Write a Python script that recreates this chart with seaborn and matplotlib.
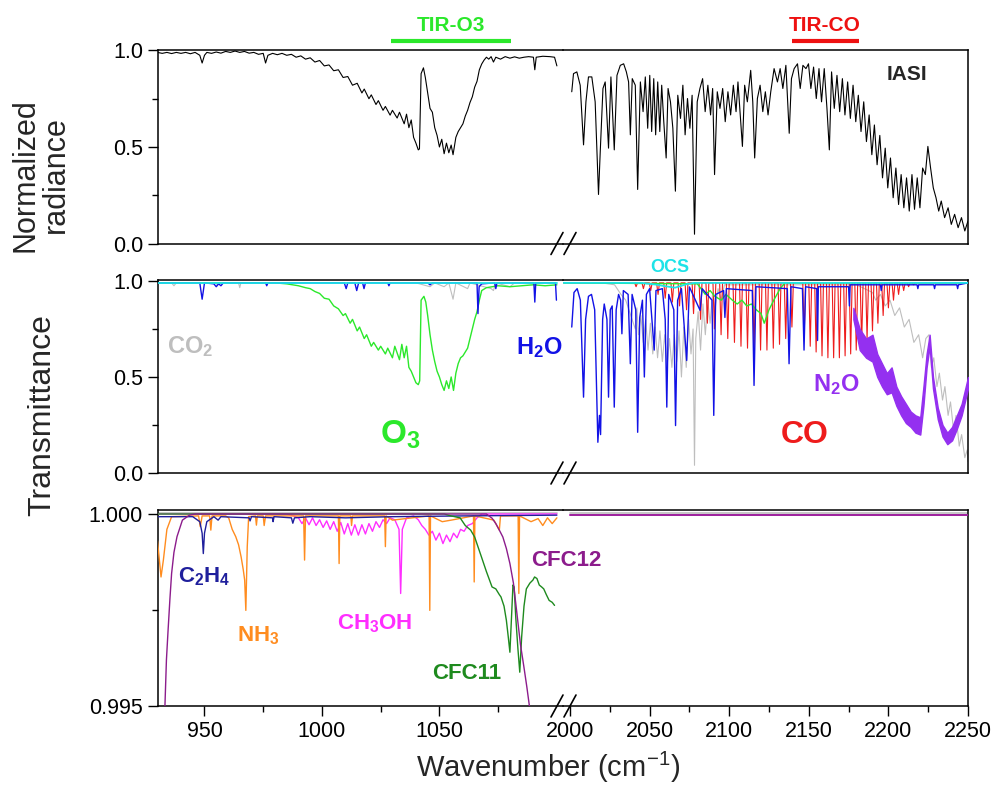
import seaborn as sns
import matplotlib.pyplot as plt
from matplotlib.ticker import FixedLocator, FormatStrFormatter
from matplotlib.lines import Line2D

# ---------------- data ----------------
# top panel: IASI normalized radiance
iasi_l_x = [930, 932, 934, 936, 938, 940, 942, 944, 946, 948, 949, 950, 951, 953, 955, 957, 959, 961, 963, 965,
            967, 969, 971, 973, 975, 976, 977, 979, 981, 983, 985, 987, 989, 991, 993, 995, 997, 999, 1001, 1003,
            1005, 1007, 1009, 1011, 1013, 1015, 1017, 1018, 1020, 1021, 1023, 1024, 1026, 1027, 1029, 1030, 1032,
            1033, 1035, 1036, 1037, 1038, 1039, 1040, 1041, 1041.5, 1042.2, 1043.2, 1044, 1045, 1046, 1047, 1048,
            1049, 1050, 1051, 1052, 1053, 1054, 1055, 1055.8, 1057, 1058, 1059, 1060, 1061, 1062, 1063, 1064, 1065,
            1066, 1067, 1068, 1069, 1070, 1071, 1072, 1073, 1074, 1076, 1078, 1080, 1082, 1084, 1086, 1088, 1090,
            1090.6, 1091.2, 1094, 1097, 1099, 1100]
iasi_l_y = [0.99, 0.985, 0.99, 0.984, 0.99, 0.985, 0.99, 0.983, 0.99, 0.975, 0.935, 0.975, 0.99, 0.985, 0.992,
            0.986, 0.995, 0.99, 0.997, 0.99, 0.995, 0.986, 0.99, 0.98, 0.985, 0.935, 0.975, 0.985, 0.978, 0.985,
            0.975, 0.98, 0.965, 0.972, 0.955, 0.962, 0.94, 0.948, 0.92, 0.925, 0.895, 0.9, 0.86, 0.865, 0.82, 0.83,
            0.78, 0.8, 0.75, 0.77, 0.72, 0.74, 0.69, 0.71, 0.665, 0.69, 0.65, 0.68, 0.62, 0.67, 0.6, 0.64, 0.55,
            0.52, 0.485, 0.49, 0.88, 0.91, 0.86, 0.78, 0.7, 0.68, 0.6, 0.56, 0.5, 0.54, 0.465, 0.52, 0.47, 0.51,
            0.46, 0.55, 0.58, 0.6, 0.62, 0.66, 0.69, 0.73, 0.76, 0.81, 0.84, 0.9, 0.93, 0.95, 0.965, 0.955, 0.968,
            0.94, 0.965, 0.955, 0.968, 0.96, 0.967, 0.96, 0.965, 0.968, 0.965, 0.9, 0.965, 0.97, 0.968, 0.965, 0.92]
iasi_r_x = [2001.1, 2002.2, 2004.3, 2006.4, 2008.5, 2010.0, 2011.6, 2013.7, 2015.8, 2017.9, 2019.0, 2020.7,
            2022.1, 2024.2, 2025.7, 2027.8, 2029.5, 2031.6, 2033.7, 2035.4, 2036.8, 2037.9, 2039.1, 2041.0,
            2042.5, 2044.2, 2045.9, 2047.3, 2048.8, 2050.1, 2051.3, 2052.6, 2053.8, 2055.1, 2056.4, 2057.6,
            2058.9, 2060.4, 2061.6, 2063.1, 2064.6, 2066.2, 2067.7, 2069.4, 2070.9, 2072.3, 2073.8, 2075.3,
            2076.7, 2078.2, 2079.9, 2081.6, 2083.3, 2084.9, 2086.6, 2088.3, 2089.6, 2090.8, 2092.5, 2094.2,
            2095.9, 2097.5, 2099.2, 2100.9, 2102.6, 2104.3, 2105.5, 2106.8, 2108.3, 2109.7, 2111.4, 2113.5,
            2114.8, 2116.0, 2117.7, 2119.4, 2121.1, 2122.7, 2124.4, 2126.1, 2128.2, 2130.3, 2132.0, 2133.7,
            2135.6, 2137.7, 2139.1, 2140.8, 2142.9, 2144.6, 2146.3, 2148.2, 2149.8, 2151.3, 2153.0, 2154.7,
            2156.4, 2158.0, 2159.7, 2161.4, 2162.9, 2164.3, 2166.0, 2167.7, 2169.4, 2171.1, 2172.7, 2174.4,
            2176.1, 2177.8, 2179.5, 2181.1, 2182.8, 2184.5, 2186.2, 2187.9, 2189.6, 2191.2, 2192.9, 2194.6,
            2196.3, 2198.0, 2199.6, 2201.3, 2203.0, 2204.7, 2206.4, 2208.0, 2209.7, 2211.4, 2213.1, 2214.8,
            2216.4, 2218.1, 2219.8, 2221.5, 2223.2, 2224.8, 2226.5, 2228.2, 2229.9, 2231.6, 2233.2, 2235.3,
            2237.5, 2239.5, 2241.6, 2243.8, 2245.9, 2248.0, 2250.0]
iasi_r_y = [0.786, 0.88, 0.889, 0.82, 0.511, 0.734, 0.863, 0.863, 0.734, 0.254, 0.477, 0.803, 0.837, 0.494,
            0.863, 0.485, 0.871, 0.923, 0.931, 0.889, 0.837, 0.563, 0.854, 0.82, 0.28, 0.837, 0.683, 0.863, 0.597,
            0.871, 0.58, 0.854, 0.563, 0.837, 0.58, 0.82, 0.631, 0.443, 0.803, 0.734, 0.597, 0.271, 0.768, 0.648,
            0.82, 0.563, 0.751, 0.597, 0.768, 0.048, 0.734, 0.803, 0.854, 0.683, 0.82, 0.666, 0.803, 0.357, 0.786,
            0.7, 0.803, 0.631, 0.786, 0.666, 0.82, 0.683, 0.837, 0.683, 0.503, 0.82, 0.734, 0.897, 0.734, 0.443,
            0.751, 0.82, 0.683, 0.786, 0.666, 0.786, 0.906, 0.837, 0.906, 0.803, 0.923, 0.571, 0.854, 0.906, 0.931,
            0.803, 0.923, 0.906, 0.931, 0.803, 0.914, 0.751, 0.906, 0.734, 0.906, 0.7, 0.485, 0.889, 0.7, 0.871,
            0.683, 0.854, 0.666, 0.837, 0.648, 0.82, 0.631, 0.768, 0.58, 0.734, 0.528, 0.666, 0.460, 0.614, 0.408,
            0.56, 0.340, 0.494, 0.288, 0.443, 0.237, 0.391, 0.202, 0.357, 0.185, 0.34, 0.168, 0.357, 0.177, 0.34,
            0.185, 0.391, 0.357, 0.503, 0.391, 0.288, 0.237, 0.168, 0.220, 0.134, 0.185, 0.099, 0.151, 0.082,
            0.134, 0.065, 0.117]

# middle panel: transmittance of single species
o3_l_x = [930, 960, 980, 985, 990, 993, 995, 997, 999, 1001, 1003, 1005, 1007, 1009, 1010, 1012, 1013, 1015,
          1016, 1018, 1019, 1021, 1022, 1024, 1025, 1027, 1028, 1030, 1031, 1033, 1034, 1035, 1036, 1037, 1038,
          1039, 1040, 1041, 1041.6, 1042.2, 1043.4, 1044.2, 1045, 1046, 1047, 1048, 1049, 1050, 1051, 1052, 1053,
          1054, 1055, 1056, 1057, 1058, 1059, 1060, 1061, 1062, 1063, 1064, 1065, 1066, 1067, 1068, 1070, 1075,
          1080, 1085, 1090, 1095, 1100]
o3_l_y = [0.99, 0.99, 0.99, 0.985, 0.975, 0.965, 0.96, 0.945, 0.935, 0.91, 0.905, 0.87, 0.855, 0.82, 0.83, 0.78,
          0.8, 0.74, 0.76, 0.7, 0.72, 0.66, 0.68, 0.64, 0.66, 0.62, 0.65, 0.6, 0.66, 0.59, 0.67, 0.6, 0.66, 0.55,
          0.53, 0.5, 0.47, 0.46, 0.48, 0.9, 0.92, 0.89, 0.82, 0.72, 0.64, 0.58, 0.53, 0.5, 0.46, 0.43, 0.48, 0.44,
          0.5, 0.43, 0.52, 0.57, 0.6, 0.61, 0.63, 0.65, 0.7, 0.75, 0.8, 0.84, 0.9, 0.95, 0.965, 0.975, 0.97, 0.975,
          0.98, 0.975, 0.98]
o3_r_x = [1996, 2080, 2085, 2088, 2091, 2095, 2098, 2102, 2105, 2108, 2111, 2114, 2117, 2120, 2122, 2125, 2128,
          2132, 2135, 2250]
o3_r_y = [0.99, 0.985, 0.93, 0.95, 0.92, 0.9, 0.93, 0.9, 0.88, 0.9, 0.87, 0.88, 0.85, 0.83, 0.78, 0.85, 0.9,
          0.96, 0.99, 0.99]

h2o_l_x = [930, 948, 949, 950, 954, 955, 956, 957, 958, 976, 976.5, 977, 1009.5, 1010.3, 1011, 1014, 1014.8,
           1015.6, 1017.3, 1017.9, 1018.5, 1028, 1028.5, 1029, 1045, 1046, 1047, 1066, 1066.4, 1066.9, 1068,
           1073.5, 1074, 1074.5, 1090.2, 1090.6, 1091, 1099.4, 1099.8]
h2o_l_y = [0.99, 0.99, 0.905, 0.99, 0.985, 0.97, 0.985, 0.975, 0.99, 0.99, 0.975, 0.99, 0.99, 0.96, 0.99, 0.99,
           0.95, 0.99, 0.99, 0.96, 0.99, 0.99, 0.975, 0.99, 0.99, 0.98, 0.99, 0.99, 0.83, 0.97, 0.985, 0.99, 0.96,
           0.99, 0.99, 0.89, 0.99, 0.99, 0.9]
h2o_r_x = [2001.1, 2002.5, 2004.5, 2006.5, 2008.5, 2009.8, 2011.6, 2013.5, 2015.5, 2017.5, 2018.5, 2019.2,
           2020.5, 2021.5, 2023.2, 2024.2, 2025.3, 2026.5, 2027.8, 2029, 2030.5, 2031.8, 2032.6, 2033.5, 2036.5,
           2037.9, 2039, 2041.3, 2042.5, 2043.8, 2045.5, 2046.7, 2048, 2050, 2052.9, 2054, 2058, 2059.8, 2060.8,
           2062, 2065.2, 2066.3, 2067.6, 2070, 2073.3, 2075, 2081.7, 2083, 2089.2, 2090.3, 2091.5, 2096.5,
           2097.3, 2098.2, 2114.5, 2115.6, 2116.8, 2136.5, 2137.6, 2138.8, 2146, 2147, 2148, 2155, 2155.5, 2156,
           2175, 2175.5, 2176, 2195, 2195.5, 2196, 2218, 2218.5, 2219, 2228.5, 2229, 2229.5, 2243, 2243.5, 2244,
           2250]
h2o_r_y = [0.76, 0.94, 0.96, 0.9, 0.395, 0.8, 0.92, 0.93, 0.85, 0.16, 0.3, 0.2, 0.8, 0.88, 0.8, 0.395, 0.85,
           0.87, 0.343, 0.85, 0.93, 0.9, 0.725, 0.95, 0.93, 0.569, 0.93, 0.85, 0.212, 0.81, 0.9, 0.5, 0.93, 0.96,
           0.64, 0.95, 0.96, 0.8, 0.343, 0.93, 0.85, 0.247, 0.9, 0.96, 0.586, 0.969, 0.847, 0.96, 0.9, 0.3, 0.93,
           0.95, 0.81, 0.96, 0.95, 0.456, 0.97, 0.96, 0.569, 0.97, 0.96, 0.64, 0.97, 0.96, 0.69, 0.97, 0.97, 0.87,
           0.98, 0.98, 0.95, 0.98, 0.98, 0.96, 0.98, 0.98, 0.96, 0.98, 0.98, 0.96, 0.98, 0.99]

co2_l_x = [930, 936, 937, 938, 955, 955.5, 956, 964.5, 965, 965.5, 1040, 1046, 1048, 1052, 1054, 1055.8, 1057,
           1062, 1063, 1072, 1073, 1074, 1080, 1082, 1100]
co2_l_y = [0.99, 0.99, 0.975, 0.99, 0.99, 0.975, 0.99, 0.99, 0.965, 0.99, 0.99, 0.97, 0.99, 0.97, 0.99, 0.905,
           0.99, 0.96, 0.99, 0.96, 0.95, 0.99, 0.97, 0.99, 0.99]
co2_r_x = [2001, 2020, 2028, 2032, 2035, 2037, 2039, 2041, 2042, 2043, 2044.5, 2046, 2047.5, 2049, 2050.5,
           2052, 2053.5, 2055, 2056.5, 2058, 2059.5, 2061, 2062.5, 2064, 2065.5, 2067, 2068.5, 2070, 2071.5,
           2073, 2074.5, 2076, 2077.3, 2078.2, 2079, 2080.5, 2082, 2083.5, 2085, 2086.5, 2088, 2089.5, 2091,
           2093, 2095, 2097, 2180, 2185, 2190, 2192, 2195, 2198, 2201, 2204, 2207, 2210, 2213, 2216, 2219,
           2221.5, 2223.5, 2225.5, 2227, 2228.5, 2230.5, 2232, 2234, 2235.5, 2237.5, 2239, 2241, 2242.5, 2244.5,
           2246, 2248, 2249.5, 2250]
co2_r_y = [0.99, 0.99, 0.98, 0.93, 0.9, 0.85, 0.8, 0.75, 0.86, 0.72, 0.82, 0.68, 0.8, 0.64, 0.78, 0.62, 0.76,
           0.6, 0.74, 0.58, 0.72, 0.56, 0.7, 0.55, 0.72, 0.58, 0.74, 0.5, 0.76, 0.55, 0.8, 0.62, 0.75, 0.04, 0.7,
           0.84, 0.64, 0.88, 0.72, 0.9, 0.78, 0.93, 0.85, 0.96, 0.9, 0.98, 0.98, 0.96, 0.94, 0.9, 0.93, 0.87, 0.9,
           0.82, 0.86, 0.76, 0.8, 0.68, 0.72, 0.6, 0.7, 0.72, 0.55, 0.6, 0.45, 0.52, 0.38, 0.45, 0.3, 0.37, 0.22,
           0.3, 0.14, 0.2, 0.08, 0.12, 0.06]

ocs_r_x = [1996, 2045, 2050, 2055, 2058, 2062, 2066, 2070, 2074, 2078, 2250]
ocs_r_y = [0.99, 0.99, 0.985, 0.98, 0.975, 0.97, 0.965, 0.975, 0.985, 0.99, 0.99]

# CO fundamental band: line positions and line-centre transmittance
co_pos = [2041.5, 2046.1, 2050.7, 2055.3, 2059.8, 2064.3, 2068.8, 2073.2, 2077.6, 2082.0, 2086.3, 2090.7,
          2094.9, 2099.1, 2103.3, 2107.4, 2111.5, 2115.6, 2119.7, 2123.7, 2127.7, 2131.6, 2135.5, 2139.4,
          2147.1, 2150.9, 2154.6, 2158.3, 2162.0, 2165.6, 2169.2, 2172.8, 2176.3, 2179.8, 2183.2, 2186.6,
          2190.0, 2193.4, 2196.7, 2200.0, 2203.2, 2206.4, 2209.6, 2212.7, 2215.8]
co_depth = [0.97, 0.96, 0.95, 0.93, 0.91, 0.89, 0.87, 0.85, 0.83, 0.8, 0.78, 0.75, 0.72, 0.7, 0.68, 0.66, 0.65,
            0.64, 0.64, 0.64, 0.65, 0.67, 0.7, 0.76, 0.72, 0.66, 0.63, 0.61, 0.6, 0.6, 0.6, 0.61, 0.62, 0.64,
            0.67, 0.7, 0.74, 0.78, 0.82, 0.86, 0.9, 0.93, 0.95, 0.97, 0.98]

n2o_x = [2178, 2182, 2186, 2190, 2193, 2196, 2199, 2202, 2205, 2208, 2211, 2214, 2217, 2220, 2222, 2224, 2225.9,
         2228, 2231, 2234, 2237, 2240, 2243, 2246, 2250]
n2o_hi = [0.86, 0.75, 0.70, 0.72, 0.62, 0.57, 0.52, 0.55, 0.45, 0.40, 0.36, 0.32, 0.30, 0.29, 0.45, 0.62, 0.72,
          0.50, 0.34, 0.25, 0.21, 0.24, 0.30, 0.36, 0.50]
n2o_lo = [0.80, 0.64, 0.60, 0.58, 0.50, 0.45, 0.41, 0.42, 0.35, 0.30, 0.26, 0.24, 0.21, 0.20, 0.35, 0.55, 0.66,
          0.44, 0.28, 0.19, 0.15, 0.17, 0.23, 0.30, 0.44]

# bottom panel: weak absorbers
nh3_x = [930, 930.8, 931.5, 932.5, 934, 936, 947.5, 948.2, 949, 952.2, 952.7, 953.2, 959, 960.3, 961.8, 963.3,
         964.5, 965.6, 966.5, 967.1, 967.6, 968.2, 968.8, 971.7, 972.1, 972.5, 975, 975.4, 976, 992.2, 992.6,
         993, 1007, 1007.3, 1007.6, 1012.3, 1012.6, 1013, 1026.7, 1027, 1027.3, 1030, 1045.6, 1045.9, 1046.2,
         1051.2, 1055, 1064.5, 1064.8, 1065.1, 1073.2, 1075.5, 1076, 1083.5, 1083.8, 1084.1, 1089, 1092, 1094,
         1096, 1098, 1100]
nh3_y = [0.9993, 0.9988, 0.99836, 0.9988, 0.9996, 0.99993, 0.99995, 0.99967, 0.99995, 0.99995, 0.99958,
         0.99995, 0.99995, 0.9999, 0.9996, 0.99941, 0.9992, 0.99888, 0.99855, 0.99828, 0.99749, 0.99915,
         0.99993, 0.99995, 0.99971, 0.99995, 0.99995, 0.9997, 0.99995, 0.99995, 0.9988, 0.99995, 0.99995,
         0.99871, 0.99995, 0.99995, 0.9997, 0.99995, 0.99995, 0.99915, 0.99995, 0.99984, 0.99995, 0.99749,
         0.99995, 0.9998, 0.99984, 0.99995, 0.99823, 0.99995, 0.99984, 0.99958, 0.99995, 0.99995, 0.99793,
         0.99995, 0.9998, 0.99988, 0.9997, 0.9999, 0.99975, 0.9999]
c2h4_x = [930, 945, 948, 949, 949.5, 950, 951, 954, 955.8, 957, 969, 969.4, 970, 979, 979.2, 979.6, 987, 987.6,
          988.3, 995, 1010, 1030, 1060, 1100]
c2h4_y = [0.99993, 0.99993, 0.9998, 0.9995, 0.99897, 0.9995, 0.9998, 0.99993, 0.99984, 0.99993, 0.9999,
          0.99982, 0.99993, 0.9999, 0.9998, 0.99993, 0.9999, 0.99976, 0.9999, 0.99993, 0.9999, 0.99993, 0.99995,
          0.99997]
ch3oh_x = [930, 985, 988, 990, 991.5, 993, 994.5, 996, 997.5, 999, 1000.5, 1002, 1003.5, 1005, 1006.5, 1008,
           1009.5, 1011, 1012.5, 1014, 1015.5, 1017, 1018.5, 1020, 1021.5, 1023, 1024.5, 1026, 1027.5, 1029,
           1031, 1032.8, 1033.5, 1034.2, 1036, 1039, 1041, 1042.5, 1044, 1045.5, 1047, 1048.5, 1050, 1051.5,
           1053, 1054.5, 1056, 1057.5, 1059, 1060.5, 1062, 1064, 1066, 1068, 1100]
ch3oh_y = [1.0, 1.0, 0.99995, 0.9999, 0.99975, 0.9999, 0.99972, 0.9999, 0.9997, 0.99985, 0.99965, 0.99982,
           0.9996, 0.9998, 0.99955, 0.99978, 0.99948, 0.99975, 0.99945, 0.99972, 0.99945, 0.99972, 0.99948,
           0.99975, 0.99955, 0.9998, 0.99965, 0.99985, 0.99975, 0.9999, 0.99985, 0.9996, 0.99793, 0.9996,
           0.9999, 0.99995, 0.99985, 0.9997, 0.9996, 0.99945, 0.99955, 0.99932, 0.9995, 0.99923, 0.99945,
           0.99928, 0.9995, 0.99938, 0.9996, 0.99955, 0.9997, 0.99975, 0.9999, 1.0, 1.0]
cfc11_x = [930, 1052, 1055, 1058.8, 1061, 1063.3, 1065, 1067.9, 1070, 1072.4, 1074, 1075.5, 1076.2, 1077.5,
           1078.5, 1079.3, 1080, 1080.6, 1081.3, 1081.8, 1082.5, 1083.4, 1084.2, 1085, 1086, 1087, 1088.5, 1089.8,
           1090.5, 1091.5, 1092.5, 1093.5, 1094.4, 1095.5, 1096.7, 1098, 1099]
cfc11_y = [1.0, 1.0, 0.99995, 0.9999, 0.9997, 0.99958, 0.9994, 0.99888, 0.9985, 0.9981, 0.99805, 0.9979,
           0.99784, 0.9976, 0.99723, 0.9968, 0.9964, 0.9972, 0.99815, 0.9981, 0.9973, 0.9965, 0.99588, 0.9968,
           0.9976, 0.99805, 0.9982, 0.99828, 0.99836, 0.99832, 0.99815, 0.9981, 0.99805, 0.9979, 0.99775, 0.9977,
           0.99762]
cfc12_x = [932.9, 933.8, 934.5, 935.3, 936, 937, 938.3, 940.6, 943.6, 946, 1070, 1072.4, 1074, 1075.5, 1077,
           1078.5, 1080, 1081.5, 1083, 1084.5, 1086, 1087.2, 1088.3, 1089]
cfc12_y = [0.9945, 0.9962, 0.99697, 0.9978, 0.99845, 0.999, 0.99941, 0.99984, 0.99997, 1.0, 1.0, 0.99989,
           0.99975, 0.99958, 0.9994, 0.9991, 0.99871, 0.9982, 0.9974, 0.9966, 0.996, 0.9955, 0.995, 0.9945]
flat_l_x = [930, 1100]
flat_r_x = [2000, 2250]

colors = {'iasi': 'black', 'o3': '#2be82b', 'h2o': '#1212e6', 'co2': '#bebebe', 'ocs': '#1ee3e8',
          'co': '#ee1c1c', 'n2o': '#9430f0', 'c2h4': '#1f1f9c', 'nh3': '#ff8c1f', 'ch3oh': '#ff2eff',
          'cfc11': '#1e8a1e', 'cfc12': '#8c1c8c'}

# ---------------- figure ----------------
sns.set_theme(style='ticks')
plt.rcParams['font.family'] = ['Liberation Sans', 'DejaVu Sans']
plt.rcParams['mathtext.fontset'] = 'custom'
plt.rcParams['mathtext.rm'] = 'Liberation Sans'
plt.rcParams['mathtext.bf'] = 'Liberation Sans:bold'
plt.rcParams['axes.linewidth'] = 1.1

W, H = 993, 785
fig = plt.figure(figsize=(W / 100, H / 100), dpi=100)

XL = (930, 1102.6)
XR = (1995.6, 2250)
x_left, x_break, x_right = 157.5, 563, 968
rows = [(49.5, 243.5, (0, 1.005)), (280, 473, (0, 1.005)), (510, 706, (0.995, 1.000104))]


def px_rect(x0, x1, top, bot):
    return [x0 / W, 1 - bot / H, (x1 - x0) / W, (bot - top) / H]


axes = []
for i, (top, bot, yl) in enumerate(rows):
    axl = fig.add_axes(px_rect(x_left, x_break, top, bot))
    axr = fig.add_axes(px_rect(x_break, x_right, top, bot))
    for ax, xl in ((axl, XL), (axr, XR)):
        ax.set_xlim(*xl)
        ax.set_ylim(*yl)
        ax.set_facecolor('none')
        for s in ax.spines.values():
            s.set_color('black')
            s.set_linewidth(1.1)
        ax.tick_params(which='both', direction='out', color='black', width=1.0,
                       labelsize=15.5, labelcolor='black')
        ax.tick_params(which='major', length=7)
        ax.tick_params(which='minor', length=4)
    axl.spines['right'].set_visible(False)
    axr.spines['left'].set_visible(False)
    axr.tick_params(axis='y', which='both', left=False, labelleft=False)
    if i < 2:
        axl.yaxis.set_major_locator(FixedLocator([0, 0.5, 1.0]))
        axl.yaxis.set_minor_locator(FixedLocator([0.25, 0.75]))
        axl.yaxis.set_major_formatter(FormatStrFormatter('%.1f'))
        for ax in (axl, axr):
            ax.tick_params(axis='x', which='both', bottom=False, labelbottom=False)
    else:
        axl.yaxis.set_major_locator(FixedLocator([0.995, 1.0]))
        axl.yaxis.set_minor_locator(FixedLocator([0.9975]))
        axl.yaxis.set_major_formatter(FormatStrFormatter('%.3f'))
        axl.xaxis.set_major_locator(FixedLocator([950, 1000, 1050]))
        axl.xaxis.set_minor_locator(FixedLocator([975, 1025, 1075]))
        axr.xaxis.set_major_locator(FixedLocator([2000, 2050, 2100, 2150, 2200, 2250]))
        axr.xaxis.set_minor_locator(FixedLocator([2025, 2075, 2125, 2175, 2225]))
    axes.append((axl, axr))

    # break marks on the bottom axis line
    for cx in (557, 570):
        fig.add_artist(Line2D([(cx - 6) / W, (cx + 6) / W], [1 - (bot + 11) / H, 1 - (bot - 11) / H],
                              transform=fig.transFigure, color='black', lw=1.2))


def line(ax, x, y, key, lw=0.8, z=2):
    sns.lineplot(x=x, y=y, ax=ax, color=colors[key], linewidth=lw, sort=False, estimator=None,
                 zorder=z, legend=False)


# --- top: IASI
(a1l, a1r) = axes[0]
line(a1l, iasi_l_x, iasi_l_y, 'iasi')
line(a1r, iasi_r_x, iasi_r_y, 'iasi')
a1r.text(2211.7, 0.875, 'IASI', fontsize=15, fontweight='bold', ha='center', va='center')
a1l.text(1054.9, 1.13, 'TIR-O3', color=colors['o3'], fontsize=15, fontweight='bold', ha='center',
         va='center', clip_on=False)
a1l.plot([1029.4, 1080.4], [1.05, 1.05], color=colors['o3'], lw=3, clip_on=False, solid_capstyle='butt')
a1r.text(2160.2, 1.13, 'TIR-CO', color='#ee1111', fontsize=15, fontweight='bold', ha='center',
         va='center', clip_on=False)
a1r.plot([2139.4, 2181.5], [1.05, 1.05], color='#ee1111', lw=3, clip_on=False, solid_capstyle='butt')

# --- middle: transmittances
(a2l, a2r) = axes[1]
co_x = [1996.0]
co_y = [0.99]
for p, d in zip(co_pos, co_depth):
    co_x += [p - 0.9, p, p + 0.9]
    co_y += [0.99, d, 0.99]
co_x.append(2250.0)
co_y.append(0.99)

line(a2l, co2_l_x, co2_l_y, 'co2', z=2)
line(a2r, co2_r_x, co2_r_y, 'co2', z=2)
line(a2r, co_x, co_y, 'co', z=3)
line(a2l, o3_l_x, o3_l_y, 'o3', lw=1.0, z=4)
line(a2r, o3_r_x, o3_r_y, 'o3', lw=1.0, z=4)
line(a2l, h2o_l_x, h2o_l_y, 'h2o', lw=1.0, z=5)
line(a2r, h2o_r_x, h2o_r_y, 'h2o', lw=1.0, z=5)
a2r.fill_between(n2o_x, n2o_lo, n2o_hi, color=colors['n2o'], lw=1.0, zorder=6)
line(a2l, flat_l_x, [0.99, 0.99], 'ocs', lw=1.3, z=7)
line(a2r, ocs_r_x, ocs_r_y, 'ocs', lw=1.3, z=7)

a2l.text(934, 0.656, r'$\mathbf{CO_2}$', color=colors['co2'], fontsize=17, ha='left', va='center')
a2l.text(1082.5, 0.654, r'$\mathbf{H_2O}$', color=colors['h2o'], fontsize=17, ha='left', va='center',
         clip_on=False, zorder=8)
a2l.text(1024.7, 0.2, r'$\mathbf{O_3}$', color=colors['o3'], fontsize=24, ha='left', va='center')
a2r.text(2062.8, 1.07, 'OCS', color=colors['ocs'], fontsize=13, fontweight='bold', ha='center',
         va='center', clip_on=False)
a2r.text(2152.8, 0.46, r'$\mathbf{N_2O}$', color=colors['n2o'], fontsize=17, ha='left', va='center')
a2r.text(2132.5, 0.2, 'CO', color=colors['co'], fontsize=23, fontweight='bold', ha='left', va='center')

# --- bottom: weak absorbers
(a3l, a3r) = axes[2]
line(a3l, flat_l_x, [1.00003, 1.00003], 'co2', lw=1.2, z=2)
line(a3r, flat_r_x, [1.00003, 1.00003], 'co2', lw=1.2, z=2)
line(a3l, ch3oh_x, ch3oh_y, 'ch3oh', lw=1.0, z=3)
line(a3l, nh3_x, nh3_y, 'nh3', lw=1.0, z=4)
line(a3l, c2h4_x, c2h4_y, 'c2h4', lw=1.0, z=5)
line(a3l, cfc11_x, cfc11_y, 'cfc11', lw=1.0, z=6)
line(a3l, cfc12_x, cfc12_y, 'cfc12', lw=1.0, z=7)
line(a3r, flat_r_x, [0.99998, 0.99998], 'ch3oh', lw=1.2, z=3)
line(a3r, flat_r_x, [0.99997, 0.99997], 'cfc12', lw=1.2, z=4)

a3l.text(938.6, 0.99838, r'$\mathbf{C_2H_4}$', color=colors['c2h4'], fontsize=16, ha='left', va='center')
a3l.text(963.8, 0.99684, r'$\mathbf{NH_3}$', color=colors['nh3'], fontsize=16, ha='left', va='center')
a3l.text(1006.5, 0.99714, r'$\mathbf{CH_3OH}$', color=colors['ch3oh'], fontsize=16, ha='left', va='center')
a3l.text(1047, 0.99584, 'CFC11', color=colors['cfc11'], fontsize=16, fontweight='bold', ha='left',
         va='center')
a3l.text(1089.1, 0.9988, 'CFC12', color=colors['cfc12'], fontsize=16, fontweight='bold', ha='left',
         va='center', clip_on=False, zorder=9)

# axis titles
fig.text(41 / W, 1 - 175 / H, 'Normalized\nradiance', rotation=90, ha='center', va='center',
         fontsize=22, linespacing=1.0)
fig.text(42 / W, 1 - 415 / H, 'Transmittance', rotation=90, ha='center', va='center', fontsize=23)
fig.text(548 / W, 1 - 767 / H, r'Wavenumber (cm$^{\mathrm{-1}}$)', ha='center', va='center', fontsize=21)

fig.savefig('out.png', dpi=100, facecolor='white')
